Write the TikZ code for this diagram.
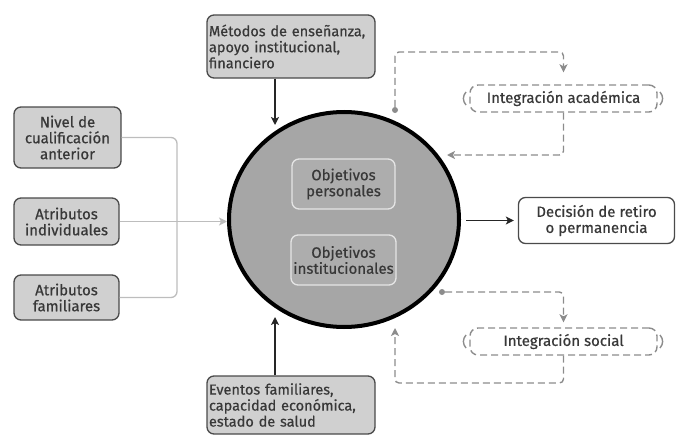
\documentclass[tikz,border=0pt]{standalone}
\usepackage{fontspec}
\setmainfont{Fira Sans}[FakeBold=0.6]
\usetikzlibrary{arrows.meta,shapes.geometric}
\definecolor{boxfill}{HTML}{D0D0D0}
\definecolor{circfill}{HTML}{A6A6A6}
\definecolor{innerfill}{HTML}{ADADAD}
\definecolor{txt}{HTML}{383838}
\definecolor{lightline}{HTML}{BDBDBD}
\definecolor{dashline}{HTML}{8C8C8C}
\definecolor{boxline}{HTML}{4A4A4A}
\begin{document}
\begin{tikzpicture}[x=1pt,y=-1pt,
 lbl/.style={font=\fontsize{15}{16}\selectfont, text=txt, align=center, inner sep=0pt},
 greybox/.style={lbl, draw=boxline, line width=1.3pt, fill=boxfill, rounded corners=7pt},
 leftbox/.style={greybox, font=\fontsize{14.5}{16}\selectfont, text width=164pt, align=left},
 innerbox/.style={lbl, draw=white!90!black, line width=1.3pt, fill=innerfill, rounded corners=7pt},
 dashbox/.style={lbl, draw=dashline, line width=1.4pt, dash pattern=on 7pt off 4pt, rounded corners=8pt},
 blackarrow/.style={draw=black!85, line width=1.3pt, -{Stealth[length=8pt,width=8pt,inset=2pt]}},
 greyarrow/.style={draw=lightline, line width=1.3pt, -{Stealth[length=8pt,width=8pt,inset=2pt]}},
 dasharrow/.style={draw=dashline, line width=1.4pt, dash pattern=on 7pt off 4pt, rounded corners=4pt, -{Stealth[length=8pt,width=8pt,inset=2pt]}},
 dotnode/.style={circle, fill=dashline, inner sep=0pt, minimum size=6pt},
 bracket/.style={draw=dashline, line width=1.4pt},
]
\useasboundingbox (0,0) rectangle (677,436);

% left boxes
\node[greybox, minimum width=107pt, minimum height=61pt] (nivel) at (67.5,137.5) {Nivel de\\cualificación\\anterior};
\node[greybox, minimum width=105pt, minimum height=47pt] (indiv) at (66.5,221.5) {Atributos\\individuales};
\node[greybox, minimum width=105pt, minimum height=45pt] (famil) at (66.5,297.5) {Atributos\\familiares};

% central ellipse
\node[ellipse, draw=black, line width=4pt, fill=circfill, minimum width=230pt, minimum height=215pt, inner sep=0pt] (circ) at (344,219.5) {};
\node[innerbox, minimum width=103pt, minimum height=50pt] (objp) at (343.5,184) {Objetivos\\personales};
\node[innerbox, minimum width=105pt, minimum height=50pt] (obji) at (343.5,260) {Objetivos\\institucionales};

% top and bottom boxes
\node[leftbox, minimum width=168pt, minimum height=63pt] (metodos) at (291,46.5) {Métodos de enseñanza,\\apoyo institucional,\\financiero};
\node[leftbox, minimum width=168pt, minimum height=58pt] (eventos) at (291,405) {Eventos familiares,\\capacidad económica,\\estado de salud};

% decision
\node[greybox, fill=white, minimum width=156pt, minimum height=46pt] (dec) at (596.5,220.5) {Decisión de retiro\\o permanencia};

% integration boxes
\node[dashbox, minimum width=187pt, minimum height=27pt] (acad) at (563.5,98.5) {Integración académica};
\node[dashbox, minimum width=187pt, minimum height=27pt] (social) at (563.5,341.5) {Integración social};
\draw[bracket] (466,92) .. controls (462.5,96) and (462.5,101) .. (466,105);
\draw[bracket] (660,92) .. controls (663.5,96) and (663.5,101) .. (660,105);
\draw[bracket] (466,335) .. controls (462.5,339) and (462.5,344) .. (466,348);
\draw[bracket] (660,335) .. controls (663.5,339) and (663.5,344) .. (660,348);

% left connectors
\coordinate (jx) at (177,0);
\draw[draw=lightline, line width=1.3pt, rounded corners=6pt] (nivel.east) -- (nivel.east -| jx) -- (famil.east -| jx) -- (famil.east);
\draw[greyarrow] (indiv.east) -- (indiv.east -| circ.west);

% top and bottom arrows
\coordinate (ttip) at (275,125);
\coordinate (btip) at (275,317);
\draw[blackarrow] (ttip |- metodos.south) -- (ttip);
\draw[blackarrow] (btip |- eventos.north) -- (btip);

% output arrow
\draw[blackarrow, shorten <=5pt, shorten >=4pt] (circ.east |- dec.west) -- (dec.west);

% academic loop
\node[dotnode] (d1) at (395,110) {};
\coordinate (a2) at (562,52);
\coordinate (a4) at (447,155);
\draw[dasharrow, shorten >=12pt] (d1) -- (d1 |- a2) -- (acad.north |- a2) -- (acad.north);
\draw[dasharrow] (acad.south) -- (acad.south |- a4) -- (a4);

% social loop
\node[dotnode] (d2) at (442,292) {};
\coordinate (s3) at (0,383);
\coordinate (s4) at (395,328);
\draw[dasharrow, shorten >=5pt] (d2) -- (d2 -| social.north) -- (social.north);
\draw[dasharrow] (social.south) -- (social.south |- s3) -- (s4 |- s3) -- (s4);
\end{tikzpicture}
\end{document}
